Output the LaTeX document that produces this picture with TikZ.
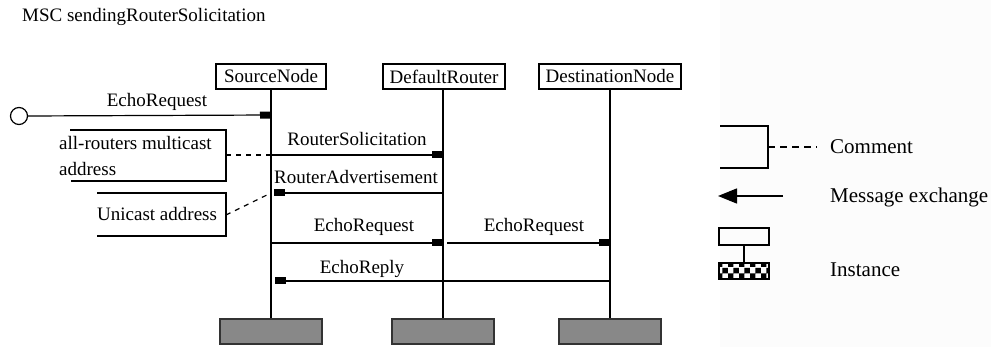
\documentclass[tikz,border=0pt]{standalone}
\usepackage{fontspec}
\setmainfont{Liberation Serif}
\usetikzlibrary{arrows.meta,patterns}
\definecolor{endgray}{HTML}{888888}
\definecolor{panel}{HTML}{FCFCFC}
\tikzset{
  dfont/.style={font=\fontsize{19}{22}\selectfont},
  lfont/.style={font=\fontsize{21}{24}\selectfont},
  inst/.style={draw, line width=1.2pt, dfont, minimum height=25pt, inner sep=0pt, fill=white},
  endbox/.style={draw=black!80, line width=1.5pt, fill=endgray, minimum width=102pt, minimum height=25pt, inner sep=0pt},
  life/.style={line width=1.2pt},
  msg/.style={line width=1.2pt, -{Rectangle[length=11pt,width=7pt]}},
  lbl/.style={dfont, inner sep=0pt},
  bracket/.style={line width=1.2pt},
  cdash/.style={line width=1.2pt, dash pattern=on 5pt off 5pt},
}
\begin{document}
\begin{tikzpicture}[x=1pt,y=-1pt]
\useasboundingbox (0,0) rectangle (991,347);
\fill[panel] (720,0) rectangle (991,347);

% title
\node[lbl, anchor=west] (title) at (22,17) {MSC sendingRouterSolicitation};

% instances
\node[inst, minimum width=110pt] (src) at (271,76.5) {SourceNode};
\node[inst, minimum width=122pt] (def) at (444,76.5) {DefaultRouter};
\node[inst, minimum width=142pt] (dst) at (610,76.5) {DestinationNode};

\node[endbox] (srcE) at (271,331.5) {};
\node[endbox] (defE) at (443,331.5) {};
\node[endbox] (dstE) at (610,331.5) {};

\draw[life] (src.south) -- (srcE.north);
\draw[life] (def.south -| defE.north) -- (defE.north);
\draw[life] (dst.south) -- (dstE.north);

% message points on lifelines
\coordinate (s1) at (271,115);
\coordinate (s2) at (271,155);
\coordinate (d2) at (443,155);
\coordinate (s3) at (271,193);
\coordinate (d3) at (443,193);
\coordinate (s4) at (271,243);
\coordinate (d4) at (443,243);
\coordinate (d4b) at (447,243);
\coordinate (t4) at (610,243);
\coordinate (s5) at (271,281);
\coordinate (t5) at (610,281);

% environment
\node[circle, draw, line width=1.2pt, minimum size=17pt, inner sep=0pt] (env) at (19,116) {};

% messages
\draw[msg] (env.east) -- (s1);
\node[lbl] (m1) at (157,102) {EchoRequest};
\draw[msg] (s2) -- (d2);
\node[lbl] (m2) at (357,139) {RouterSolicitation};
\draw[msg, shorten >=3pt] (d3) -- (s3);
\node[lbl] (m3) at (356,177) {RouterAdvertisement};
\draw[msg] (s4) -- (d4);
\node[lbl] (m4) at (364,227) {EchoRequest};
\draw[msg] (d4b) -- (t4);
\node[lbl] (m5) at (534,227) {EchoRequest};
\draw[msg, shorten >=4pt] (t5) -- (s5);
\node[lbl] (m6) at (362,269) {EchoReply};

% comments
\coordinate (c1a) at (70,130);
\coordinate (c1b) at (226,130);
\coordinate (c1c) at (226,181);
\coordinate (c1d) at (71,181);
\coordinate (c1m) at (226,155);
\draw[bracket] (c1a) -- (c1b) -- (c1c) -- (c1d);
\node[lbl, anchor=west] (c1t1) at (59,143) {all-routers multicast};
\node[lbl, anchor=west] (c1t2) at (59,169) {address};
\draw[cdash] (c1m) -- (s2);

\coordinate (c2a) at (97,193);
\coordinate (c2b) at (226,193);
\coordinate (c2c) at (226,236);
\coordinate (c2d) at (97,236);
\coordinate (c2m) at (226,215);
\draw[bracket] (c2a) -- (c2b) -- (c2c) -- (c2d);
\node[lbl, anchor=west] (c2t) at (97,214) {Unicast address};
\draw[cdash] (c2m) -- (s3);

% legend
\coordinate (la) at (720,126);
\coordinate (lb) at (768,126);
\coordinate (lc) at (768,168);
\coordinate (ld) at (720,168);
\coordinate (lm) at (768,147);
\coordinate (le) at (817,147);
\draw[bracket] (la) -- (lb) -- (lc) -- (ld);
\draw[line width=1.2pt, dash pattern=on 7pt off 5pt] (lm) -- (le);
\node[lfont, anchor=west, inner sep=0pt] (lt1) at (830,147) {Comment};

\coordinate (ma) at (783,196);
\coordinate (mb) at (718,196);
\draw[line width=1.5pt, -{Triangle[length=19pt,width=15pt]}] (ma) -- (mb);
\node[lfont, anchor=west, inner sep=0pt] (lt2) at (830,197) {Message exchange};

\node[draw, line width=1.2pt, minimum width=50pt, minimum height=17pt, inner sep=0pt] (ib) at (744,236.5) {};
\node[draw, line width=1.2pt, pattern=checkerboard, minimum width=50pt, minimum height=16pt, inner sep=0pt] (ie) at (744,271) {};
\draw[line width=1.2pt] (ib.south) -- (ie.north);
\node[lfont, anchor=west, inner sep=0pt] (lt3) at (830,270) {Instance};
\end{tikzpicture}
\end{document}
